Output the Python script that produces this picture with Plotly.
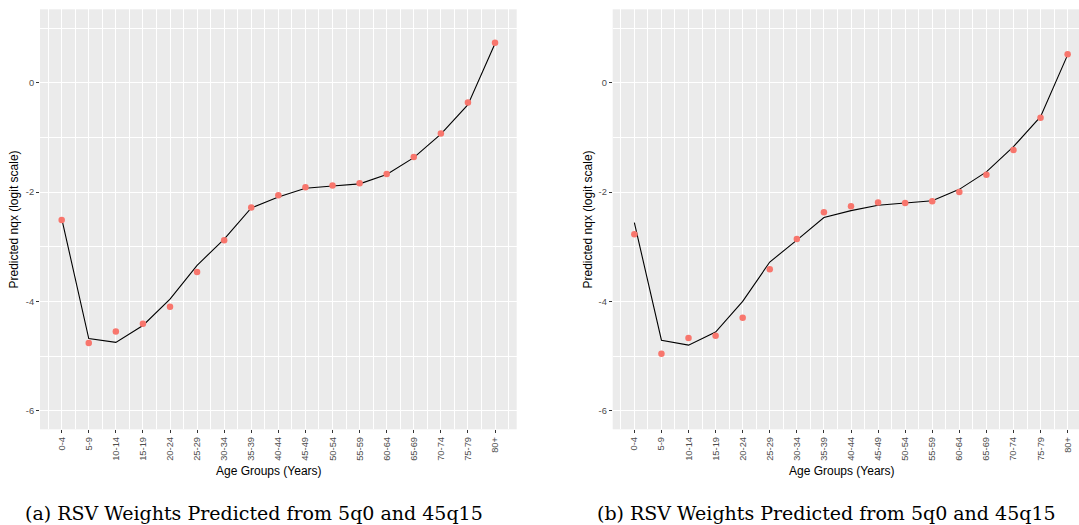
import plotly.graph_objects as go

# ---------------- data ----------------
age_groups = ["0-4", "5-9", "10-14", "15-19", "20-24", "25-29", "30-34", "35-39",
              "40-44", "45-49", "50-54", "55-59", "60-64", "65-69", "70-74", "75-79", "80+"]

# panel (a)
observed_a = [-2.51, -4.76, -4.55, -4.41, -4.10, -3.46, -2.88, -2.28,
              -2.06, -1.91, -1.88, -1.84, -1.67, -1.36, -0.93, -0.36, 0.73]
predicted_a = [-2.48, -4.68, -4.75, -4.44, -3.96, -3.34, -2.86, -2.29,
               -2.09, -1.93, -1.89, -1.85, -1.68, -1.37, -0.94, -0.40, 0.72]

# panel (b)
observed_b = [-2.77, -4.96, -4.67, -4.63, -4.30, -3.41, -2.86, -2.37,
              -2.26, -2.19, -2.20, -2.17, -2.00, -1.685, -1.23, -0.64, 0.52]
predicted_b = [-2.56, -4.71, -4.80, -4.56, -4.00, -3.28, -2.88, -2.465,
               -2.34, -2.24, -2.20, -2.16, -1.95, -1.63, -1.17, -0.62, 0.51]

y_tick_vals = [0, -2, -4, -6]
y_tick_text = ["0", "-2", "-4", "-6"]
y_minor_vals = [1, -1, -3, -5]

x_title = "Age Groups (Years)"
y_title = "Predicted nqx (logit scale)"
captions = ["(a) RSV Weights Predicted from 5q0 and 45q15",
            "(b) RSV Weights Predicted from 5q0 and 45q15"]

# ---------------- figure ----------------
W, H = 1079, 525
x_pos = list(range(1, len(age_groups) + 1))
x_minor = [p - 0.5 for p in x_pos] + [x_pos[-1] + 0.5]

POINT = "#F8766D"
PANEL = "#EBEBEB"
TXT = "#4D4D4D"
TICK_FONT = dict(family="Liberation Sans, Arial, sans-serif", size=9.3, color=TXT)

fig = go.Figure()
for i, (obs, pred) in enumerate([(observed_a, predicted_a), (observed_b, predicted_b)]):
    xa = "x" if i == 0 else "x2"
    ya = "y" if i == 0 else "y2"
    fig.add_trace(go.Scatter(x=x_pos, y=pred, mode="lines",
                             line=dict(color="black", width=1.1),
                             xaxis=xa, yaxis=ya, showlegend=False, hoverinfo="skip"))
    fig.add_trace(go.Scatter(x=x_pos, y=obs, mode="markers",
                             marker=dict(color=POINT, size=6.5, line=dict(width=0)),
                             xaxis=xa, yaxis=ya, showlegend=False))


def px_x(p):
    return p / W


def px_y(p):
    return 1 - p / H


y_dom = [px_y(429.3), px_y(9.3)]

common_x = dict(
    tickmode="array", tickvals=x_pos, ticktext=age_groups, tickangle=-90,
    ticks="outside", ticklen=3, tickwidth=1, tickcolor="#333333",
    showgrid=True, gridcolor="white", gridwidth=1.1,
    minor=dict(tickmode="array", tickvals=x_minor, showgrid=True,
               gridcolor="white", gridwidth=0.5, ticks=""),
    zeroline=False, showline=False, tickfont=TICK_FONT,
)
common_y = dict(
    tickmode="array", tickvals=y_tick_vals, ticktext=y_tick_text,
    range=[-6.34, 1.344], domain=y_dom,
    ticks="outside", ticklen=3, tickwidth=1, tickcolor="#333333",
    showgrid=True, gridcolor="white", gridwidth=1.1,
    minor=dict(tickmode="array", tickvals=y_minor_vals, showgrid=True,
               gridcolor="white", gridwidth=0.5, ticks=""),
    zeroline=False, showline=False, tickfont=TICK_FONT,
)

fig.update_layout(
    width=W, height=H,
    margin=dict(l=0, r=0, t=0, b=0),
    paper_bgcolor="white", plot_bgcolor=PANEL,
    xaxis=dict(common_x, domain=[px_x(40), px_x(516.7)], range=[0.2, 17.8], anchor="y"),
    yaxis=dict(common_y, anchor="x"),
    xaxis2=dict(common_x, domain=[px_x(612.7), 1.0], range=[0.2, 17.42], anchor="y2"),
    yaxis2=dict(common_y, anchor="x2"),
)

ann = []
for xt, yt in [(269, 13), (841.7, 587)]:
    ann.append(dict(x=px_x(xt), y=px_y(471), xref="paper", yref="paper",
                    text=x_title, showarrow=False, xanchor="center", yanchor="middle",
                    font=dict(family="Liberation Sans, Arial, sans-serif", size=12, color="black")))
    ann.append(dict(x=px_x(yt), y=px_y(219.5), xref="paper", yref="paper",
                    text=y_title, textangle=-90, showarrow=False,
                    xanchor="center", yanchor="middle",
                    font=dict(family="Liberation Sans, Arial, sans-serif", size=12, color="black")))
for cap, cx in zip(captions, [253.5, 826]):
    ann.append(dict(x=px_x(cx), y=px_y(513), xref="paper", yref="paper",
                    text=cap, showarrow=False, xanchor="center", yanchor="middle",
                    font=dict(family="DejaVu Serif, serif", size=19, color="black")))
fig.update_layout(annotations=ann)

fig.write_html("out.html")
